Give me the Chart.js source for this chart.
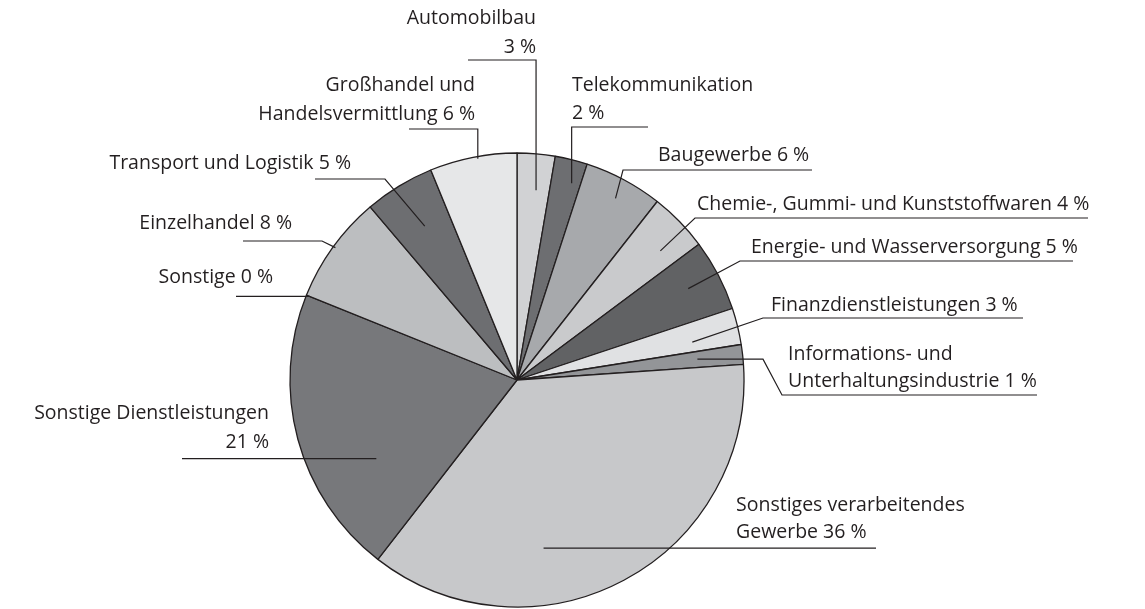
<!DOCTYPE html>
<html lang="de">
<head>
<meta charset="UTF-8">
<title>Branchenverteilung</title>
<script src="https://cdn.jsdelivr.net/npm/chart.js"></script>
<style>
  html, body { margin: 0; padding: 0; background: #fff; }
  #pie { display: block; }
</style>
</head>
<body>
<canvas id="pie" width="1145" height="609"></canvas>

<script>
    // Daten (im Uhrzeigersinn ab 12 Uhr)
    var categories = [
        'Automobilbau\n',
        'Telekommunikation\n',
        'Baugewerbe',
        'Chemie-, Gummi- und Kunststoffwaren',
        'Energie- und Wasserversorgung',
        'Finanzdienstleistungen',
        'Informations- und\nUnterhaltungsindustrie',
        'Sonstiges verarbeitendes\nGewerbe',
        'Sonstige Dienstleistungen\n',
        'Sonstige',
        'Einzelhandel',
        'Transport und Logistik',
        'Großhandel und\nHandelsvermittlung'
    ];
    var values = [2.7, 2.3, 5.6, 4.2, 5.1, 2.6, 1.4, 36.6, 20.6, 0, 7.7, 5.0, 6.2];
    var percentLabels = [3, 2, 6, 4, 5, 3, 1, 36, 21, 0, 8, 5, 6];

    var colors = ['#d1d2d4', '#6d6e71', '#a7a9ac', '#c9cacc', '#616264', '#e0e1e3', '#939598',
                  '#c7c8ca', '#77787b', '#bcbec0', '#bcbec0', '#6d6e71', '#e6e7e8'];

    // Beschriftungen: Textposition, Unterstreichung, Führungslinie
    // t = Anteil innerhalb des Segments, r = Anteil des Radius (Ankerpunkt im Segment)
    var labelLayout = [
        { align: 'right', x: 536, ys: [18, 47],   style: 'v', uy: 60,  far: 468,  t: 0.59, r: 0.84 },
        { align: 'left',  x: 572, ys: [85, 113],  style: 'v', uy: 127, far: 648,  t: 0.70, r: 0.90 },
        { align: 'left',  x: 658, ys: [155],      style: 'd', uy: 170, near: 623, far: 812,  t: 0.52, r: 0.91 },
        { align: 'left',  x: 697, ys: [204],      style: 'd', uy: 218, near: 695, far: 1088, t: 0.65, r: 0.85 },
        { align: 'left',  x: 751, ys: [247],      style: 'd', uy: 261, near: 740, far: 1073, t: 0.47, r: 0.855 },
        { align: 'left',  x: 771, ys: [305],      style: 'd', uy: 318, near: 763, far: 1023, t: 0.66, r: 0.79 },
        { align: 'left',  x: 788, ys: [354, 381], style: 'k', uy: 395, knee: 763, near: 782, far: 1037, t: 0.48, r: 0.80 },
        { align: 'left',  x: 736, ys: [505, 532], style: 'h', far: 876, t: 0.645, r: 0.75 },
        { align: 'right', x: 269, ys: [413, 442], style: 'h', far: 182, t: 0.31, r: 0.71 },
        { align: 'right', x: 273, ys: [277],      style: 'h', far: 236, t: 0.5, r: 0.985 },
        { align: 'right', x: 292, ys: [223],      style: 'd', uy: 241, near: 322, far: 243, t: 0.51, r: 0.99 },
        { align: 'right', x: 351, ys: [163],      style: 'd', uy: 179, near: 385, far: 315, t: 0.52, r: 0.79 },
        { align: 'right', x: 475, ys: [85, 114],  style: 'v', uy: 129, far: 409,  t: 0.55, r: 0.99 }
    ];

    var textColor = '#231f20';
    var labelFont = '400 19.5px "Open Sans", "Noto Sans", sans-serif';

    var leaderPlugin = {
        id: 'leaderLabels',
        afterDatasetsDraw: function(chart) {
            var ctx = chart.ctx;
            var arcs = chart.getDatasetMeta(0).data;
            ctx.save();
            ctx.strokeStyle = textColor;
            ctx.lineWidth = 1.2;
            ctx.fillStyle = textColor;
            ctx.font = labelFont;
            ctx.textBaseline = 'middle';

            arcs.forEach(function(arc, i) {
                var lay = labelLayout[i];
                var p = arc.getProps(['x', 'y', 'startAngle', 'endAngle', 'outerRadius'], true);
                var a = p.startAngle + (p.endAngle - p.startAngle) * lay.t;
                var ax = p.x + Math.cos(a) * p.outerRadius * lay.r;
                var ay = p.y + Math.sin(a) * p.outerRadius * lay.r;

                ctx.beginPath();
                if (lay.style === 'v') {
                    ctx.moveTo(lay.far, lay.uy);
                    ctx.lineTo(ax, lay.uy);
                    ctx.lineTo(ax, ay);
                } else if (lay.style === 'h') {
                    ctx.moveTo(lay.far, ay);
                    ctx.lineTo(ax, ay);
                } else if (lay.style === 'k') {
                    ctx.moveTo(ax, ay);
                    ctx.lineTo(lay.knee, ay);
                    ctx.lineTo(lay.near, lay.uy);
                    ctx.lineTo(lay.far, lay.uy);
                } else {
                    ctx.moveTo(ax, ay);
                    ctx.lineTo(lay.near, lay.uy);
                    ctx.lineTo(lay.far, lay.uy);
                }
                ctx.stroke();

                var lines = categories[i].split('\n');
                var last = lines.length - 1;
                lines[last] = (lines[last] ? lines[last] + ' ' : '') + percentLabels[i] + ' %';
                ctx.textAlign = lay.align;
                lines.forEach(function(txt, k) {
                    ctx.fillText(txt, lay.x, lay.ys[k]);
                });
            });
            ctx.restore();
        }
    };

    var ctx = document.getElementById('pie').getContext('2d');
    var chart = new Chart(ctx, {
        type: 'pie',
        data: {
            labels: categories,
            datasets: [{
                data: values,
                backgroundColor: colors,
                borderColor: '#231f20',
                borderWidth: 1.3,
                radius: 227
            }]
        },
        options: {
            responsive: false,
            animation: false,
            events: [],
            layout: {
                padding: { left: 0, right: 111, top: 151, bottom: 0 }
            },
            plugins: {
                legend: { display: false },
                tooltip: { enabled: false }
            }
        },
        plugins: [leaderPlugin]
    });
</script>
</body>
</html>
